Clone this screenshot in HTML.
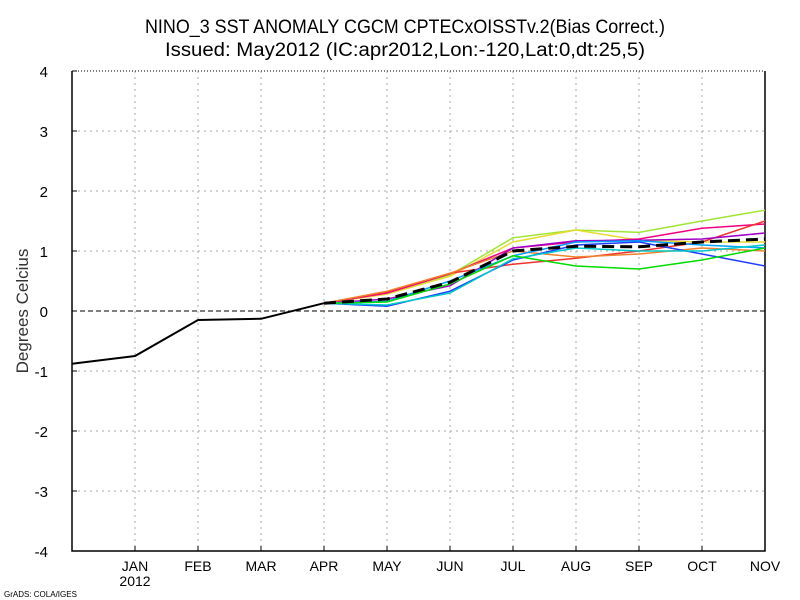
<!DOCTYPE html>
<html><head><meta charset="utf-8"><style>
body{margin:0;background:#fff;}
svg{display:block;font-family:"Liberation Sans",sans-serif;}
</style></head><body>
<svg id="chart" width="800" height="600">
<text x="405" y="33" text-anchor="middle" font-size="19" textLength="520" lengthAdjust="spacingAndGlyphs">NINO_3 SST ANOMALY CGCM CPTECxOISSTv.2(Bias Correct.)</text>
<text x="405" y="56" text-anchor="middle" font-size="19" textLength="480" lengthAdjust="spacingAndGlyphs">Issued:  May2012 (IC:apr2012,Lon:-120,Lat:0,dt:25,5)</text>
<text x="28" y="311" text-anchor="middle" font-size="17" fill="#333" transform="rotate(-90 28 311)">Degrees Celcius</text>
<text x="4" y="597" font-size="8">GrADS: COLA/IGES</text>
<g id="grid"></g><g id="axes"></g><g id="series"></g>
</svg>
<script>
const months=["DEC","JAN","FEB","MAR","APR","MAY","JUN","JUL","AUG","SEP","OCT","NOV"];
const yTicks=[-4,-3,-2,-1,0,1,2,3,4];
const observed=[-0.88,-0.75,-0.15,-0.13,0.13];
const memberColors=["#a0e632","#e6dc32","#f00082","#f03232","#f0822d","#a000c8","#1e3cff","#00a0ff","#00c8c8","#00dc00"];
const m1=[0.13,0.30,0.60,1.22,1.35,1.31,1.50,1.68];
const m2=[0.13,0.28,0.58,1.15,1.35,1.18,1.15,1.15];
const m3=[0.13,0.30,0.62,1.05,1.15,1.20,1.38,1.45];
const m4=[0.13,0.32,0.63,0.78,0.88,1.00,1.15,1.50];
const m5=[0.13,0.33,0.63,1.00,0.90,0.95,1.05,1.00];
const m6=[0.13,0.20,0.42,1.05,1.17,1.18,1.20,1.30];
const m7=[0.13,0.08,0.33,0.85,1.10,1.15,0.95,0.75];
const m8=[0.13,0.16,0.50,0.92,1.15,1.17,1.10,1.05];
const m9=[0.13,0.10,0.30,0.87,1.05,1.00,1.00,1.10];
const m10=[0.13,0.15,0.45,0.92,0.75,0.70,0.85,1.05];
const ensMean=[0.13,0.20,0.48,1.00,1.08,1.07,1.15,1.20];
const members=[m1,m2,m3,m4,m5,m6,m7,m8,m9,m10];
const L=72,R=765,T=71,B=551;
const xs=i=>L+i*(R-L)/(months.length-1);
const ys=v=>T+(4-v)*(B-T)/8;
const NS="http://www.w3.org/2000/svg";
function mk(tag,parent,attrs){const e=document.createElementNS(NS,tag);for(const k in attrs)e.setAttribute(k,attrs[k]);document.getElementById(parent).appendChild(e);return e;}
months.forEach((m,i)=>{
 if(i>0&&i<months.length-1){const g=mk("line","grid",{x1:xs(i),x2:xs(i),y1:T,y2:B,stroke:"#aaa","stroke-dasharray":"2,4"});
 
 }
 if(i>0){const t=mk("text","axes",{x:xs(i),y:571,"text-anchor":"middle","font-size":"14"});t.textContent=m;
 
 
 const tk=mk("line","axes",{x1:xs(i),x2:xs(i),y1:B,y2:B-5,stroke:"#000"});
 
 }
});
const yr=mk("text","axes",{x:xs(1),y:586,"text-anchor":"middle","font-size":"14"});yr.textContent="2012";


yTicks.forEach(v=>{
 if(v!==4&&v!==-4){const g=mk("line","grid",{x1:L,x2:R,y1:ys(v),y2:ys(v),stroke:v===0?"#000":"#aaa","stroke-dasharray":v===0?"5,3":"2,4"});
 
 }
 const t=mk("text","axes",{x:48,y:ys(v)+6,"text-anchor":"end","font-size":"15"});t.textContent=v;
 
 
 const tk=mk("line","axes",{x1:L,x2:L+5,y1:ys(v),y2:ys(v),stroke:"#000"});
 
 
});
const topBorder=mk("line","axes",{x1:L,x2:R,y1:T,y2:T,stroke:"#000","stroke-dasharray":"1,2"});


const bx=mk("path","axes",{d:`M${L},${T}V${B}H${R}V${T}`,fill:"none",stroke:"#000","stroke-width":"1.5"});


const pts=(arr,off)=>arr.map((v,i)=>xs(i+off)+","+ys(v)).join(" ");
members.forEach((arr,k)=>{
 const p=mk("polyline","series",{points:pts(arr,4),fill:"none",stroke:memberColors[k],"stroke-width":"1.5"});
 
 
});
const mean=mk("polyline","series",{points:pts(ensMean,4),fill:"none",stroke:"#000","stroke-width":"3","stroke-dasharray":"12,6"});


const obs=mk("polyline","series",{points:pts(observed,0),fill:"none",stroke:"#000","stroke-width":"2"});


</script>
</body></html>
